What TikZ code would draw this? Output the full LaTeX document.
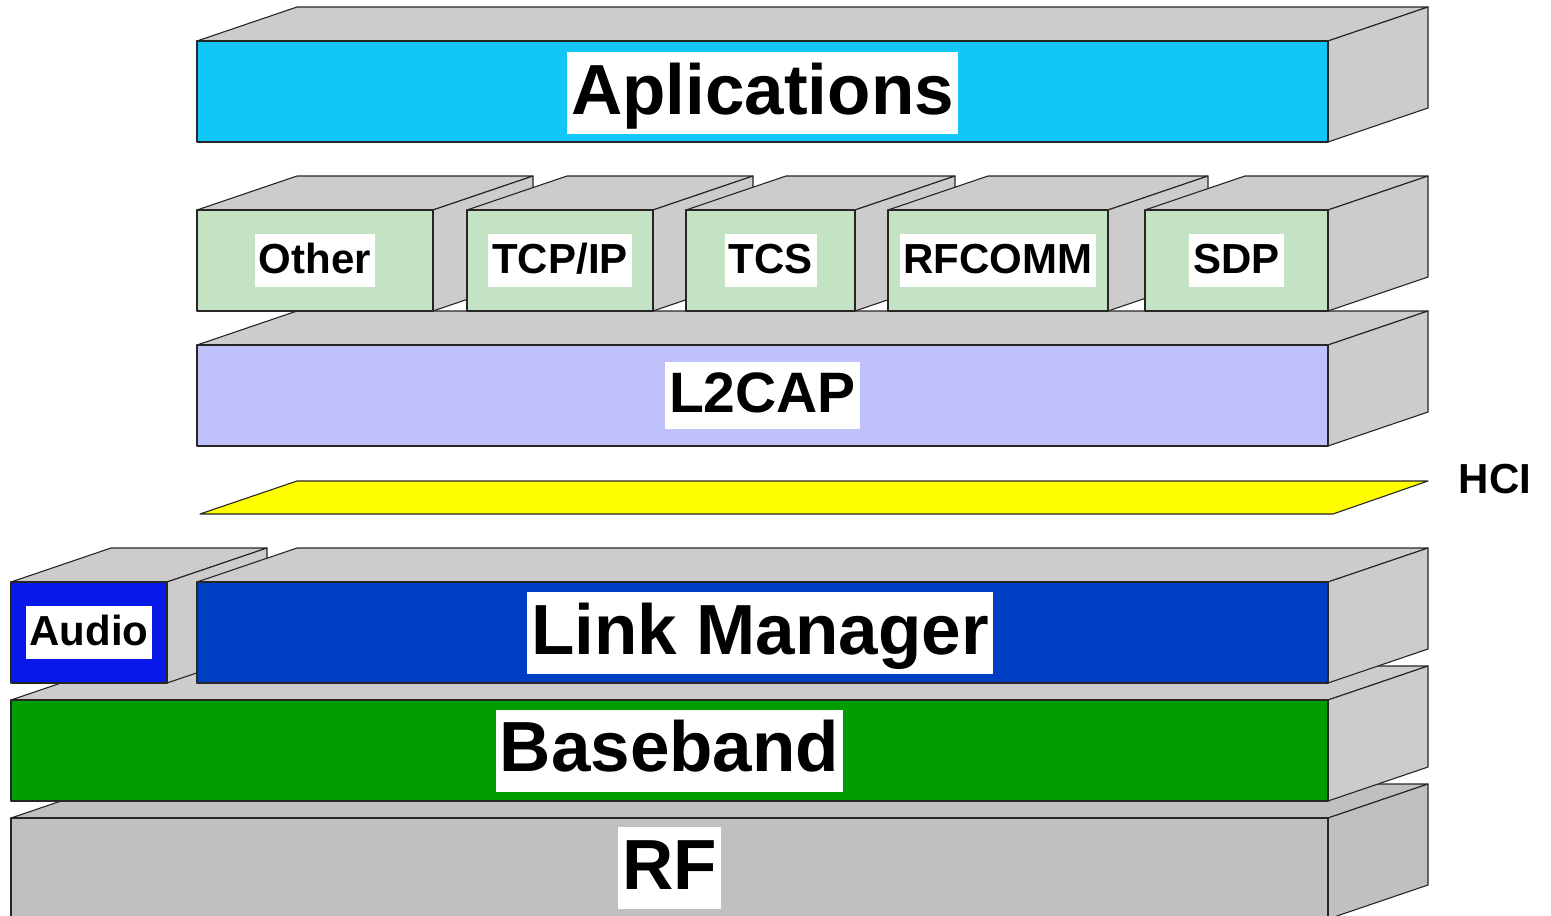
\documentclass[tikz,border=0pt]{standalone}
\usepackage{fontspec}
\setmainfont{Liberation Sans}
\definecolor{sidegray}{RGB}{204,204,204}
\definecolor{rfgray}{RGB}{192,192,192}
\definecolor{appcyan}{RGB}{18,198,245}
\definecolor{protgreen}{RGB}{196,226,196}
\definecolor{lcapblue}{RGB}{192,192,250}
\definecolor{lmblue}{RGB}{0,62,196}
\definecolor{audioblue}{RGB}{8,24,232}
\definecolor{bbgreen}{RGB}{0,158,0}
\definecolor{hciyellow}{RGB}{255,255,0}
% one block: [side colour]{x1}{y1}{x2}{y2}{front colour}, front face corners in pixels
\newcommand\layerbox[6][sidegray]{%
  \filldraw[face,fill=#1] (#2,#3) -- (#2+100,#3-34) -- (#4+100,#3-34) -- (#4,#3) -- cycle;
  \filldraw[face,fill=#1] (#4,#3) -- (#4+100,#3-34) -- (#4+100,#5-34) -- (#4,#5) -- cycle;
  \filldraw[face,fill=#6] (#2,#3) rectangle (#4,#5);}
\begin{document}
\begin{tikzpicture}[x=1pt,y=-1pt,line join=round,
    face/.style={draw=black!85,line width=1.1pt},
    lbl/.style={fill=white,inner xsep=4pt},
    big/.style={lbl,font=\fontsize{71}{71}\selectfont\bfseries,text height=57pt,text depth=15pt,inner ysep=5pt},
    mid/.style={lbl,font=\fontsize{57}{57}\selectfont\bfseries,text height=46pt,text depth=12pt,inner ysep=4.5pt},
    small/.style={lbl,font=\fontsize{42}{42}\selectfont\bfseries,text height=34pt,text depth=9pt,inner ysep=5pt}]
  \useasboundingbox (0,0) rectangle (1551,916);
  \clip (0,0) rectangle (1551,916);
  % lower stack
  \layerbox[rfgray]{11}{818}{1328}{919}{rfgray}
  \node[big] (rf) at (669.5,868) {RF};
  \layerbox{11}{700}{1328}{801}{bbgreen}
  \node[big] (bb) at (669.5,750.5) {Baseband};
  \layerbox{11}{582}{167}{683}{audioblue}
  \node[small] (audio) at (89,632.5) {Audio};
  \layerbox{197}{582}{1328}{683}{lmblue}
  \node[big] (lm) at (760,633) {Link Manager};
  % HCI
  \filldraw[face,fill=hciyellow] (200,514) -- (1333,514) -- (1428,481) -- (297,481) -- cycle;
  \node[font=\fontsize{42}{42}\selectfont\bfseries] (hci) at (1495,479) {HCI};
  % upper stack
  \layerbox{197}{345}{1328}{446}{lcapblue}
  \node[mid] (l2cap) at (762.5,395.5) {L2CAP};
  \foreach \t/\xa/\xb [count=\i] in {Other/197/433,{TCP/IP}/467/653,TCS/686/855,RFCOMM/888/1108,SDP/1145/1328}{
    \layerbox{\xa}{210}{\xb}{311}{protgreen}
    \node[small] (p\i) at ({(\xa+\xb)/2},260.5) {\t};
  }
  \layerbox{197}{41}{1328}{142}{appcyan}
  \node[big] (app) at (762.5,93) {Aplications};
\end{tikzpicture}
\end{document}
